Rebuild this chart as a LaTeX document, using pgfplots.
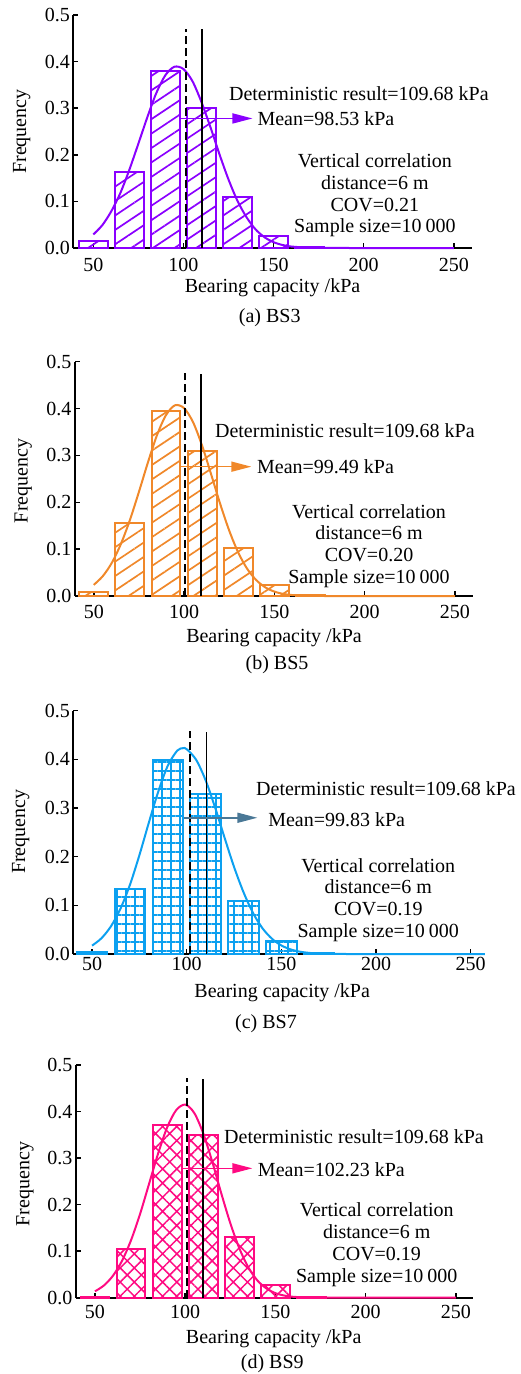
\documentclass[border=0pt]{standalone}
\usepackage{fontspec}
\setmainfont{Liberation Serif}
\usepackage{pgfplots}
\pgfplotsset{compat=1.18}
\usetikzlibrary{patterns.meta,arrows.meta}
\definecolor{cA}{HTML}{8A00FF}
\definecolor{cB}{HTML}{F0882A}
\definecolor{cC}{HTML}{0CA0F0}
\definecolor{cCarrow}{HTML}{4A7896}
\definecolor{cD}{HTML}{FF0A82}
\pgfplotsset{
  /pgf/number format/assume math mode=true,
  hist/.style={
    scale only axis,
    axis x line=bottom, axis y line=left,
    axis line style={line width=2pt,-},
    every outer x axis line/.append style={-},
    every outer y axis line/.append style={-},
    tick align=inside, major tick length=5pt,
    major tick style={black,line width=1.5pt},
    ymin=0, ymax=0.5, ytick={0,0.1,0.2,0.3,0.4,0.5},
    xtick={50,100,150,200,250},
    yticklabel style={/pgf/number format/fixed,/pgf/number format/fixed zerofill,/pgf/number format/precision=1},
    font=\fontsize{20}{21.7}\selectfont,
    clip=false, anchor=south west,
  },
  bars/.style={ybar, bar width=16, line width=2pt},
  curve/.style={line width=2pt, smooth},
  dline/.style={black, line width=2pt, dash pattern=on 8pt off 4pt},
  sline/.style={black, line width=1.8pt},
  arr/.style={line width=1.6pt, -{Triangle[length=20pt,width=10pt]}},
}
\begin{document}
\begin{tikzpicture}
\useasboundingbox (0,0) rectangle (520pt,-1374pt);
% ---------------- (a)
\begin{axis}[hist, at={(73.3pt,-248pt)}, width=398.4pt, height=233pt,
  xmin=38.9, xmax=259.9, xticklabel style={yshift=-6.5pt}]
\addplot[bars, draw=cA, pattern={Lines[angle=33.7,distance=12pt,line width=1.7pt]}, pattern color=cA]
  coordinates {(50,0.014) (70,0.164) (90,0.379) (110,0.300) (130,0.109) (150,0.025) (170,0.002)};
\addplot[curve, cA] coordinates {(50,0.029) (55,0.049) (60,0.079) (65,0.118) (70,0.168) (75,0.224) (80,0.281) (85,0.333) (90,0.371) (95,0.389) (100,0.384) (105,0.358) (110,0.313) (115,0.259) (120,0.201) (125,0.147) (130,0.101) (135,0.066) (140,0.040) (145,0.023) (150,0.0125) (155,0.0064) (160,0.0031) (170,0.0006) (180,0.0001) (200,0) (250,0)};
\addplot[dline] coordinates {(101.6,0) (101.6,0.471)};
\addplot[sline] coordinates {(110.3,0) (110.3,0.469)};
\addplot[arr, cA] coordinates {(98.4,0.278) (138.3,0.278)};
\node[anchor=west,inner sep=0] at (axis cs:125.2,0.332) {Deterministic result=109.68 kPa};
\node[anchor=west,inner sep=0] at (axis cs:141,0.277) {Mean=98.53 kPa};
\node[align=center,inner sep=0] at (axis cs:206.2,0.113) {Vertical correlation\\distance=6 m\\COV=0.21\\Sample size=10\hspace{0.2em}000};
\end{axis}
\node[rotate=90,font=\fontsize{20}{24}\selectfont] at (21.7pt,-131.5pt) {Frequency};
\node[font=\fontsize{20}{24}\selectfont] at (272.5pt,-288pt) {Bearing capacity /kPa};
\node[font=\fontsize{20}{24}\selectfont] at (269.7pt,-318pt) {(a) BS3};
% ---------------- (b)
\begin{axis}[hist, at={(75pt,-596pt)}, width=398pt, height=234.3pt,
  xmin=39.6, xmax=260.1, xticklabel style={yshift=-5.7pt}]
\addplot[bars, draw=cB, pattern={Lines[angle=33.7,distance=12pt,line width=1.7pt]}, pattern color=cB]
  coordinates {(50,0.009) (70,0.156) (90,0.395) (110,0.309) (130,0.103) (150,0.023) (170,0.002)};
\addplot[curve, cB] coordinates {(50,0.0238) (55,0.0424) (60,0.0708) (65,0.1107) (70,0.162) (75,0.222) (80,0.285) (85,0.343) (90,0.386) (95,0.407) (100,0.401) (105,0.371) (110,0.321) (115,0.260) (120,0.197) (125,0.140) (130,0.093) (135,0.058) (140,0.034) (145,0.0185) (150,0.0095) (155,0.0045) (160,0.002) (170,0.0003) (180,0) (200,0) (250,0)};
\addplot[dline] coordinates {(100.7,0) (100.7,0.476)};
\addplot[sline] coordinates {(109.4,0) (109.4,0.474)};
\addplot[arr, cB] coordinates {(97.5,0.276) (137.3,0.276)};
\node[anchor=west,inner sep=0] at (axis cs:117.1,0.353) {Deterministic result=109.68 kPa};
\node[anchor=west,inner sep=0] at (axis cs:140.4,0.276) {Mean=99.49 kPa};
\node[align=center,inner sep=0] at (axis cs:202.5,0.107) {Vertical correlation\\distance=6 m\\COV=0.20\\Sample size=10\hspace{0.2em}000};
\end{axis}
\node[rotate=90,font=\fontsize{20}{24}\selectfont] at (23.3pt,-480.8pt) {Frequency};
\node[font=\fontsize{20}{24}\selectfont] at (274pt,-637.7pt) {Bearing capacity /kPa};
\node[font=\fontsize{20}{24}\selectfont] at (277pt,-665pt) {(b) BS5};
% ---------------- (c)
\begin{axis}[hist, at={(73.3pt,-954pt)}, width=397.4pt, height=243.3pt,
  xmin=40.1, xmax=250, xticklabel style={yshift=0pt}]
\addplot[bars, draw=cC, pattern={Hatch[angle=0,distance=9pt,line width=1.5pt]}, pattern color=cC]
  coordinates {(50,0.004) (70,0.134) (90,0.399) (110,0.329) (130,0.109) (150,0.027) (170,0.002)};
\addplot[curve, cC] coordinates {(50,0.0172) (55,0.0325) (60,0.057) (65,0.093) (70,0.142) (75,0.203) (80,0.270) (85,0.334) (90,0.387) (95,0.418) (98,0.423) (100,0.421) (105,0.399) (110,0.357) (115,0.301) (120,0.239) (125,0.179) (130,0.127) (135,0.0845) (140,0.053) (145,0.0315) (150,0.0176) (155,0.0093) (160,0.0046) (165,0.0022) (170,0.0009) (180,0.0001) (200,0) (257.5,0)};
\addplot[dline] coordinates {(101.9,0) (101.9,0.459)};
\addplot[sline] coordinates {(110.5,0) (110.5,0.457)};
\addplot[arr, cCarrow] coordinates {(98.6,0.280) (137.3,0.280)};
\node[anchor=west,inner sep=0] at (axis cs:136.6,0.340) {Deterministic result=109.68 kPa};
\node[anchor=west,inner sep=0] at (axis cs:143,0.277) {Mean=99.83 kPa};
\node[align=center,inner sep=0] at (axis cs:201.2,0.111) {Vertical correlation\\distance=6 m\\COV=0.19\\Sample size=10\hspace{0.2em}000};
\end{axis}
\node[rotate=90,font=\fontsize{20}{24}\selectfont] at (20.7pt,-831.7pt) {Frequency};
\node[font=\fontsize{20}{24}\selectfont] at (282.2pt,-992.3pt) {Bearing capacity /kPa};
\node[font=\fontsize{20}{24}\selectfont] at (266pt,-1024pt) {(c) BS7};
% ---------------- (d)
\begin{axis}[hist, at={(76pt,-1297.7pt)}, width=397.3pt, height=232.7pt,
  xmin=39.5, xmax=259.6, xticklabel style={yshift=-4pt}]
\addplot[bars, draw=cD, pattern={Hatch[angle=45,distance=10pt,line width=1.5pt]}, pattern color=cD]
  coordinates {(50,0.002) (70,0.105) (90,0.372) (110,0.350) (130,0.131) (150,0.027) (170,0.002)};
\addplot[curve, cD] coordinates {(50,0.0137) (55,0.0264) (60,0.0474) (65,0.0793) (70,0.1237) (75,0.180) (80,0.245) (85,0.310) (90,0.366) (95,0.403) (100,0.415) (105,0.397) (110,0.353) (115,0.292) (120,0.224) (125,0.160) (130,0.106) (135,0.065) (140,0.037) (145,0.0198) (150,0.0098) (155,0.0045) (160,0.0019) (170,0.0003) (180,0) (200,0) (250,0)};
\addplot[dline] coordinates {(100.8,0) (100.8,0.473)};
\addplot[sline] coordinates {(109.7,0) (109.7,0.471)};
\addplot[arr, cD] coordinates {(98,0.278) (137.2,0.278)};
\node[anchor=west,inner sep=0] at (axis cs:121.5,0.346) {Deterministic result=109.68 kPa};
\node[anchor=west,inner sep=0] at (axis cs:140.2,0.276) {Mean=102.23 kPa};
\node[align=center,inner sep=0] at (axis cs:206.1,0.114) {Vertical correlation\\distance=6 m\\COV=0.19\\Sample size=10\hspace{0.2em}000};
\end{axis}
\node[rotate=90,font=\fontsize{20}{24}\selectfont] at (25pt,-1184pt) {Frequency};
\node[font=\fontsize{20}{24}\selectfont] at (273.7pt,-1338.3pt) {Bearing capacity /kPa};
\node[font=\fontsize{20}{24}\selectfont] at (272.3pt,-1364pt) {(d) BS9};
\end{tikzpicture}
\end{document}
